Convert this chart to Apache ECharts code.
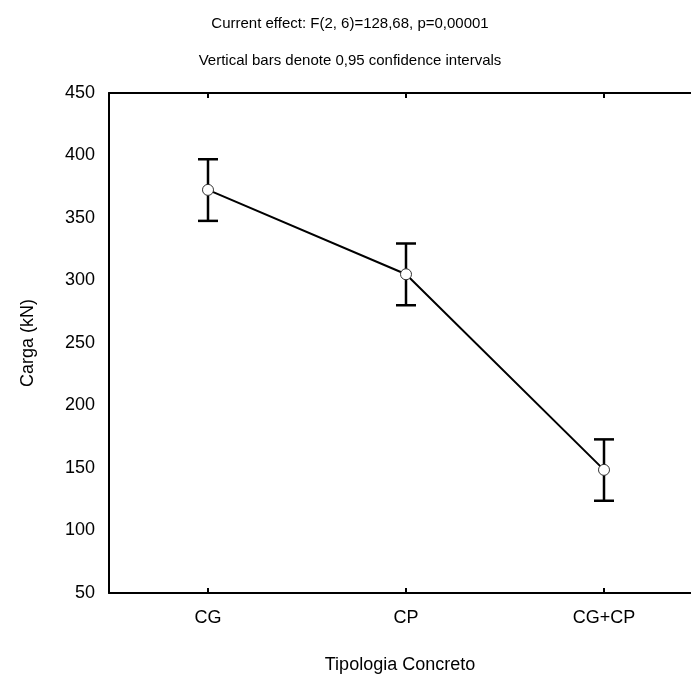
<!DOCTYPE html>
<html>
<head>
<meta charset="utf-8">
<script src="https://cdn.jsdelivr.net/npm/echarts@6/dist/echarts.min.js"></script>
<style>
  html, body { margin: 0; padding: 0; background: #fff; overflow: hidden; }
  /* plot frame runs past the right edge in the original, so the canvas is a bit wider */
  #chart { width: 703px; height: 679px; }
</style>
</head>
<body>
<div id="chart"></div>
<script>
// categorias e medias
let categories = ['CG', 'CP', 'CG+CP'];
let means = [372.5, 305, 148.5];
let lower = [347.7, 280.2, 123.8];
let upper = [397.0, 329.6, 172.9];
let yTicks = [50, 100, 150, 200, 250, 300, 350, 400, 450];

let font = 'Liberation Sans, Arial, sans-serif';

let chart = echarts.init(document.getElementById('chart'));

let errData = categories.map((c, i) => [i, lower[i], upper[i]]);

let tickStyle = { show: true, interval: 0, alignWithLabel: true, inside: true, length: 5, lineStyle: { color: '#000', width: 2 } };

let option = {
  animation: false,
  title: [{
    text: 'Current effect: F(2, 6)=128,68, p=0,00001',
    left: 345,
    textAlign: 'center',
    top: 11,
    textStyle: { fontFamily: font, fontSize: 15, fontWeight: 'normal', color: '#000' }
  }, {
    text: 'Vertical bars denote 0,95 confidence intervals',
    left: 345,
    textAlign: 'center',
    top: 48,
    textStyle: { fontFamily: font, fontSize: 15, fontWeight: 'normal', color: '#000' }
  }],
  grid: {
    left: 109,
    right: 0,
    top: 93,
    bottom: 86
  },
  xAxis: [{
    type: 'category',
    data: categories,
    position: 'bottom',
    name: 'Tipologia Concreto',
    nameLocation: 'middle',
    nameGap: 63,
    nameTextStyle: { fontFamily: font, fontSize: 18, color: '#000', padding: [0, 12, 0, 0] },
    axisLine: { lineStyle: { color: '#000', width: 2 } },
    axisTick: tickStyle,
    axisLabel: { fontFamily: font, fontSize: 18, color: '#000', margin: 16 },
    splitLine: { show: false }
  }, {
    type: 'category',
    data: categories,
    position: 'top',
    axisLine: { lineStyle: { color: '#000', width: 2 } },
    axisTick: tickStyle,
    axisLabel: { show: false },
    splitLine: { show: false }
  }],
  yAxis: {
    type: 'value',
    min: 50,
    max: 450,
    interval: 50,
    name: 'Carga (kN)',
    nameLocation: 'middle',
    nameGap: 72,
    nameTextStyle: { fontFamily: font, fontSize: 18, color: '#000' },
    axisLine: { show: true, lineStyle: { color: '#000', width: 2 } },
    axisTick: { show: false },
    axisLabel: {
      fontFamily: font, fontSize: 18, color: '#000', margin: 14,
      formatter: v => yTicks.indexOf(v) >= 0 ? String(v) : ''
    },
    splitLine: { show: false }
  },
  series: [{
    type: 'custom',
    data: errData,
    z: 2,
    renderItem: function (params, api) {
      let lo = api.coord([api.value(0), api.value(1)]);
      let hi = api.coord([api.value(0), api.value(2)]);
      let w = 10;
      let style = { stroke: '#000', lineWidth: 2.5 };
      return {
        type: 'group',
        children: [
          { type: 'line', shape: { x1: lo[0], y1: lo[1], x2: hi[0], y2: hi[1] }, style: style },
          { type: 'line', shape: { x1: hi[0] - w, y1: hi[1], x2: hi[0] + w, y2: hi[1] }, style: style },
          { type: 'line', shape: { x1: lo[0] - w, y1: lo[1], x2: lo[0] + w, y2: lo[1] }, style: style }
        ]
      };
    }
  }, {
    type: 'line',
    data: means,
    z: 3,
    symbol: 'circle',
    symbolSize: 11,
    lineStyle: { color: '#000', width: 2 },
    itemStyle: { color: '#fff', borderColor: '#333', borderWidth: 1 }
  }]
};

chart.setOption(option);
</script>
</body>
</html>
